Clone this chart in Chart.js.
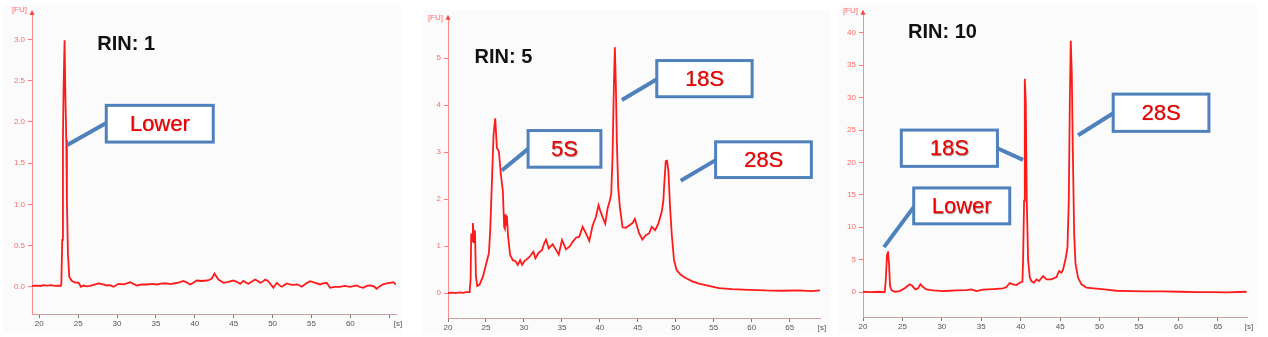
<!DOCTYPE html>
<html>
<head>
<meta charset="utf-8">
<script src="https://cdn.jsdelivr.net/npm/chart.js@4"></script>
<style>
  body { margin: 0; background: #fff; }
  #wrap { position: relative; width: 1268px; height: 337px; overflow: hidden; background: #fff; }
  .panel { position: absolute; background: #fbfbfb; }
  .panel canvas { display: block; }
</style>
</head>
<body>
<div id="wrap">
  <div class="panel" style="left:3px;top:5px;width:399px;height:328px"><canvas id="rin1" width="399" height="328"></canvas></div>
  <div class="panel" style="left:423px;top:10px;width:407px;height:325px"><canvas id="rin5" width="407" height="325"></canvas></div>
  <div class="panel" style="left:838px;top:5px;width:419px;height:328px"><canvas id="rin10" width="419" height="328"></canvas></div>
</div>
<script>
// ---- RIN 1 trace (migration time [s], fluorescence [FU])
const rin1Seconds = [
  19.06, 19.6, 20.2, 20.5, 21.0, 21.5, 22.0, 22.5, 22.75, 22.83,
  22.95, 23.04, 23.13, 23.25, 23.34, 23.47, 23.55, 23.68, 23.85, 24.2,
  24.63, 25.05, 25.35, 25.7, 26.1, 26.55, 27.1, 27.62, 28.2, 28.69,
  29.1, 29.55, 30.19, 30.9, 31.69, 32.1, 32.55, 33.2, 33.83, 34.5,
  35.12, 35.8, 36.4, 36.9, 37.26, 37.9, 38.54, 39.0, 39.4, 39.8,
  40.26, 40.9, 41.54, 41.9, 42.18, 42.53, 42.8, 43.04, 43.68, 44.3,
  44.97, 45.4, 45.82, 46.25, 46.6, 46.9, 47.3, 47.75, 48.1, 48.4,
  48.7, 49.04, 49.4, 49.68, 50.1, 50.54, 50.85, 51.18, 51.82, 52.2,
  52.68, 53.2, 53.75, 54.3, 54.82, 55.4, 56.1, 56.5, 56.96, 57.39,
  58.0, 58.67, 59.3, 59.96, 60.4, 60.81, 61.2, 61.67, 62.1, 62.53,
  63.0, 63.38, 63.81, 64.2, 64.67, 65.1, 65.52, 65.85
];
const rin1Fu = [
  0.01, 0.015, 0.01, 0.02, 0.015, 0.02, 0.01, 0.015, 0.01, 0.03,
  0.57, 1.82, 2.46, 2.99, 2.38, 1.78, 1.05, 0.41, 0.12, 0.07,
  0.05, 0.05, 0.0, 0.015, 0.005, 0.01, 0.025, 0.04, 0.03, 0.016,
  0.02, 0.0, 0.036, 0.03, 0.055, 0.035, 0.016, 0.03, 0.028, 0.035,
  0.028, 0.04, 0.04, 0.032, 0.04, 0.05, 0.07, 0.05, 0.028, 0.05,
  0.076, 0.07, 0.076, 0.085, 0.1, 0.16, 0.12, 0.088, 0.048, 0.06,
  0.076, 0.06, 0.036, 0.072, 0.05, 0.036, 0.06, 0.088, 0.07, 0.048,
  0.06, 0.088, 0.07, 0.04, -0.012, 0.048, 0.02, 0.0, 0.04, 0.03,
  0.024, 0.03, 0.0, 0.04, 0.068, 0.05, 0.028, 0.04, 0.048, -0.012,
  0.0, 0.0, 0.01, 0.0, 0.008, 0.016, 0.0, -0.012, 0.01, 0.016,
  0.005, -0.024, 0.008, 0.03, 0.04, 0.048, 0.056, 0.028
];

// ---- RIN 5 trace
const rin5Seconds = [
  20.0, 20.5, 21.0, 21.53, 22.0, 22.4, 22.85, 22.98, 23.06, 23.18,
  23.28, 23.42, 23.55, 23.68, 23.85, 24.16, 24.6, 25.04, 25.39, 25.56,
  25.82, 26.0, 26.22, 26.44, 26.7, 26.96, 27.22, 27.4, 27.49, 27.57,
  27.66, 27.75, 27.92, 28.19, 28.54, 28.89, 29.19, 29.5, 29.76, 30.07,
  30.73, 31.25, 31.51, 31.95, 32.39, 32.7, 32.92, 33.27, 33.79, 34.23,
  34.58, 35.02, 35.54, 36.07, 36.42, 36.86, 37.29, 37.73, 38.17, 38.61,
  39.05, 39.48, 39.83, 40.18, 40.71, 41.02, 41.32, 41.5, 41.67, 41.85,
  41.98, 42.11, 42.24, 42.42, 42.64, 42.99, 43.42, 43.86, 44.3, 44.61,
  44.87, 45.18, 45.61, 46.05, 46.49, 46.84, 47.28, 47.71, 48.15, 48.37,
  48.46, 48.68, 48.85, 49.03, 49.25, 49.47, 49.77, 50.12, 50.65, 51.3,
  52.18, 53.06, 54.37, 55.68, 57.43, 59.62, 61.81, 64.0, 66.19, 67.94,
  69.0
];
const rin5Fu = [
  0.0, 0.01, 0.0, 0.014, 0.005, 0.02, 0.02, 0.3, 1.27, 1.1,
  1.49, 1.06, 1.34, 0.35, 0.15, 0.18, 0.35, 0.63, 0.85, 1.33,
  2.53, 3.37, 3.72, 3.09, 3.02, 2.53, 2.18, 1.40, 1.37, 1.68,
  1.45, 1.65, 1.2, 0.81, 0.70, 0.68, 0.6, 0.7, 0.6, 0.68,
  0.77, 0.88, 0.74, 0.86, 0.92, 1.07, 1.14, 0.95, 1.04, 0.92,
  0.82, 1.13, 0.93, 1.0, 1.09, 1.18, 1.2, 1.41, 1.27, 1.11,
  1.44, 1.62, 1.87, 1.69, 1.48, 1.8, 1.97, 2.11, 2.88, 4.42,
  5.23, 4.42, 3.23, 2.25, 1.83, 1.40, 1.39, 1.44, 1.49, 1.58,
  1.44, 1.27, 1.14, 1.23, 1.27, 1.41, 1.34, 1.48, 1.73, 1.97,
  2.25, 2.81, 2.82, 2.6, 1.83, 1.26, 0.70, 0.49, 0.39, 0.32,
  0.25, 0.2, 0.155, 0.105, 0.085, 0.07, 0.056, 0.05, 0.056, 0.04,
  0.056
];

// ---- RIN 10 trace
const rin10Seconds = [
  20.0, 21.0, 22.0, 22.75, 22.88, 23.05, 23.17, 23.3, 23.43, 23.64,
  24.02, 24.65, 25.29, 25.63, 25.92, 26.26, 26.64, 26.98, 27.28, 27.61,
  28.04, 28.88, 30.15, 31.0, 31.84, 33.11, 33.75, 34.38, 35.23, 36.5,
  37.77, 38.19, 38.61, 39.04, 39.46, 39.88, 40.22, 40.3, 40.43, 40.52,
  40.64, 40.77, 40.94, 41.15, 41.36, 41.66, 42.0, 42.33, 42.84, 43.27,
  43.9, 44.53, 44.87, 45.17, 45.38, 45.72, 45.93, 46.1, 46.23, 46.35,
  46.48, 46.61, 46.78, 46.95, 47.28, 47.71, 48.34, 49.61, 50.88, 52.15,
  53.84, 55.96, 58.07, 60.19, 62.3, 64.42, 66.11, 68.65
];
const rin10Fu = [
  0.05, 0.0, 0.05, 0.0, 1.7, 5.8, 6.3, 4.3, 0.9, 0.26,
  0.05, 0.15, 0.57, 0.93, 1.19, 0.93, 0.41, 0.57, 1.19, 0.77,
  0.41, 0.26, 0.15, 0.2, 0.26, 0.3, 0.41, 0.15, 0.36, 0.46,
  0.57, 0.77, 1.39, 1.19, 1.08, 1.44, 1.6, 4.8, 14.1, 32.9,
  29.5, 14.1, 4.9, 2.3, 1.7, 1.44, 1.96, 1.7, 2.47, 1.96,
  1.96, 2.32, 3.25, 2.99, 3.5, 5.3, 6.9, 14.1, 29.5, 38.8,
  33.6, 21.8, 9.0, 4.4, 2.2, 1.19, 0.67, 0.52, 0.36, 0.2,
  0.15, 0.1, 0.1, 0.05, 0.0, 0.0, -0.05, 0.05
];

// ---- tick values
const timeTicks = [20, 25, 30, 35, 40, 45, 50, 55, 60, 65];
const rin1FuTicks = [0, 0.5, 1, 1.5, 2, 2.5, 3];
const rin5FuTicks = [0, 1, 2, 3, 4, 5];
const rin10FuTicks = [0, 5, 10, 15, 20, 25, 30, 35, 40];

const calloutBlue = "#4f81bd";

// draws axis arrow, unit labels, RIN title and the callout boxes
const gelNotes = {
  id: "gelNotes",
  afterDraw(chart, args, opts) {
    const ctx = chart.ctx;
    const xs = chart.scales.x;
    const ys = chart.scales.y;
    const area = chart.chartArea;
    const px = (t) => xs.getPixelForValue(t);
    const py = (v) => ys.getPixelForValue(v);
    ctx.save();

    // arrow head on y axis + [FU]
    ctx.fillStyle = "#ff4040";
    ctx.beginPath();
    ctx.moveTo(area.left, area.top - 3);
    ctx.lineTo(area.left - 2.5, area.top + 2);
    ctx.lineTo(area.left + 2.5, area.top + 2);
    ctx.closePath();
    ctx.fill();
    ctx.fillStyle = "#ff6a6a";
    ctx.font = '8px "Liberation Sans"';
    ctx.textAlign = "right";
    ctx.textBaseline = "middle";
    ctx.fillText("[FU]", area.left - 5, area.top + opts.fuDy);

    // [s] at end of time axis
    ctx.fillStyle = "#555";
    ctx.textAlign = "center";
    ctx.textBaseline = "top";
    ctx.fillText("[s]", area.right + 2, area.bottom + 6);

    // RIN title
    ctx.fillStyle = "#111";
    ctx.font = 'bold 20px "Liberation Sans"';
    ctx.textAlign = "left";
    ctx.textBaseline = "middle";
    ctx.fillText(opts.title, px(opts.titleAt[0]), py(opts.titleAt[1]));

    // callouts
    opts.callouts.forEach((c) => {
      ctx.strokeStyle = calloutBlue;
      ctx.lineWidth = 4;
      ctx.beginPath();
      ctx.moveTo(px(c.from[0]), py(c.from[1]));
      ctx.lineTo(px(c.to[0]), py(c.to[1]));
      ctx.stroke();

      const x0 = px(c.box[0]), y0 = py(c.box[1]);
      const x1 = px(c.box[2]), y1 = py(c.box[3]);
      ctx.fillStyle = "#fff";
      ctx.fillRect(x0, y0, x1 - x0, y1 - y0);
      ctx.lineWidth = 3;
      ctx.strokeRect(x0, y0, x1 - x0, y1 - y0);

      ctx.fillStyle = "#f00000";
      ctx.font = '22px "Liberation Sans"';
      ctx.textAlign = "center";
      ctx.textBaseline = "middle";
      ctx.shadowColor = "rgba(60,0,0,0.55)";
      ctx.shadowBlur = 1;
      ctx.shadowOffsetX = 0.6;
      ctx.shadowOffsetY = 0.6;
      ctx.fillText(c.text, (x0 + x1) / 2, (y0 + y1) / 2 + 1);
      ctx.shadowColor = "transparent";
    });
    ctx.restore();
  }
};

function makeChart(id, seconds, fu, s) {
  const points = seconds.map((t, i) => ({ x: t, y: fu[i] }));
  return new Chart(document.getElementById(id), {
    type: "line",
    data: {
      datasets: [{
        data: points,
        borderColor: "#ff1a1a",
        borderWidth: 1.8,
        pointRadius: 0,
        tension: 0,
        fill: false
      }]
    },
    options: {
      responsive: false,
      animation: false,
      layout: { padding: { left: 0, top: s.padTop, right: s.padRight, bottom: 0 } },
      plugins: {
        legend: { display: false },
        tooltip: { enabled: false },
        gelNotes: s.notes
      },
      scales: {
        x: {
          type: "linear",
          min: s.xMin,
          max: s.xMax,
          afterBuildTicks: (scale) => { scale.ticks = timeTicks.map((v) => ({ value: v })); },
          afterFit: (scale) => { scale.height = s.xHeight; },
          ticks: {
            autoSkip: false,
            maxRotation: 0,
            padding: 1,
            color: "#555",
            font: { family: "Liberation Sans", size: 8 },
            callback: (v) => (s.hideLast && v === 65 ? "" : String(v))
          },
          grid: { drawOnChartArea: false, drawTicks: true, tickLength: 4, color: "#777" },
          border: { display: true, color: "#c9a0a0", width: 1 }
        },
        y: {
          type: "linear",
          min: s.yMin,
          max: s.yMax,
          afterBuildTicks: (scale) => { scale.ticks = s.yTicks.map((v) => ({ value: v })); },
          afterFit: (scale) => { scale.width = s.yWidth; },
          ticks: {
            padding: 3,
            color: "#ff6a6a",
            font: { family: "Liberation Sans", size: 8 },
            callback: (v) => (s.yFixed ? v.toFixed(1) : String(v))
          },
          grid: { drawOnChartArea: false, drawTicks: true, tickLength: 4, color: "#ff7a7a" },
          border: { display: true, color: "#ff8c8c", width: 1 }
        }
      }
    },
    plugins: [gelNotes]
  });
}

makeChart("rin1", rin1Seconds, rin1Fu, {
  xMin: 19.06, xMax: 65.87, yMin: -0.33, yMax: 3.32,
  yTicks: rin1FuTicks, yFixed: true, hideLast: true,
  padTop: 8, padRight: 6, xHeight: 19, yWidth: 29,
  notes: {
    fuDy: -3,
    title: "RIN: 1", titleAt: [27.46, 2.94],
    callouts: [
      { text: "Lower", box: [28.61, 2.20, 42.37, 1.755], from: [28.61, 1.985], to: [23.6, 1.72] }
    ]
  }
});

makeChart("rin5", rin5Seconds, rin5Fu, {
  xMin: 20, xMax: 69.0, yMin: -0.53, yMax: 5.86,
  yTicks: rin5FuTicks, yFixed: false, hideLast: false,
  padTop: 5, padRight: 10, xHeight: 17, yWidth: 25,
  notes: {
    fuDy: 0,
    title: "RIN: 5", titleAt: [23.5, 5.02],
    callouts: [
      { text: "5S", box: [30.55, 3.46, 40.14, 2.68], from: [30.55, 3.07], to: [27.09, 2.61] },
      { text: "18S", box: [47.5, 4.95, 60.06, 4.18], from: [47.5, 4.55], to: [42.9, 4.11] },
      { text: "28S", box: [55.25, 3.22, 67.86, 2.46], from: [55.25, 2.83], to: [50.65, 2.39] }
    ]
  }
});

makeChart("rin10", rin10Seconds, rin10Fu, {
  xMin: 20, xMax: 68.7, yMin: -3.85, yMax: 43.1,
  yTicks: rin10FuTicks, yFixed: false, hideLast: false,
  padTop: 7, padRight: 10, xHeight: 16, yWidth: 25,
  notes: {
    fuDy: -2,
    title: "RIN: 10", titleAt: [25.71, 40.05],
    callouts: [
      { text: "28S", box: [51.73, 30.55, 63.87, 24.8], from: [51.73, 27.6], to: [47.28, 24.2] },
      { text: "18S", box: [24.86, 25.0, 37.05, 19.4], from: [37.05, 22.2], to: [40.3, 20.4] },
      { text: "Lower", box: [26.43, 16.07, 38.61, 10.53], from: [26.43, 13.1], to: [22.66, 6.93] }
    ]
  }
});
</script>
</body>
</html>
